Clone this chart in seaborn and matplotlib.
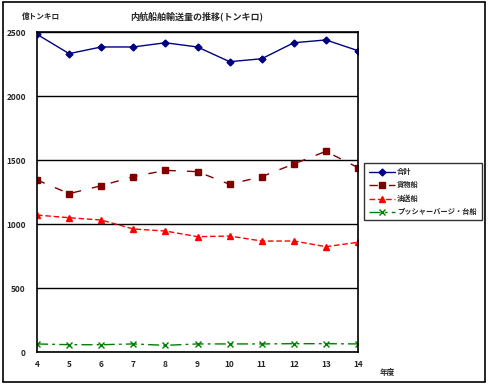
import matplotlib
matplotlib.use("Agg")
import matplotlib.pyplot as plt
import pandas as pd
import seaborn as sns
from matplotlib.patches import Rectangle

# 年度 (fiscal year, Heisei)
years = [4, 5, 6, 7, 8, 9, 10, 11, 12, 13, 14]

# 億トンキロ
total = [2482, 2331, 2383, 2383, 2416, 2383, 2268, 2291, 2416, 2438, 2354]
cargo = [1344, 1237, 1299, 1370, 1419, 1409, 1310, 1370, 1469, 1568, 1440]
oil = [1070, 1049, 1031, 961, 945, 901, 906, 867, 867, 823, 857]
pusher = [63, 57, 57, 63, 52, 63, 63, 63, 65, 65, 63]

series_names = ["合計", "貨物船", "油送船", "プッシャーバージ・台船"]
colors = ["#000080", "#800000", "#FF0000", "#008000"]
markers = ["D", "s", "^", "x"]
styles = ["-", (0, (6, 8)), (0, (4, 2)), (0, (8, 3, 2, 3))]

df = pd.DataFrame({"年度": years, series_names[0]: total, series_names[1]: cargo,
                   series_names[2]: oil, series_names[3]: pusher})
long = df.melt(id_vars="年度", var_name="系列", value_name="値")

sns.set_style("white")
plt.rcParams["font.family"] = ["Noto Sans CJK JP", "DejaVu Sans"]

fig = plt.figure(figsize=(4.9, 3.87), dpi=100)
ax = fig.add_axes([37 / 490, 1 - 352 / 387, 321 / 490, 320 / 387])

for name, c, m, ls in zip(series_names, colors, markers, styles):
    sub = long[long["系列"] == name]
    sns.lineplot(data=sub, x="年度", y="値", ax=ax, color=c, marker=m,
                 linestyle=ls, linewidth=1.0, markersize=4.5 if m != "D" else 3.5,
                 markeredgecolor=c, markeredgewidth=1.0, label=name)

ax.set_xlim(4, 14)
ax.set_ylim(0, 2500)
ax.set_xticks(years)
ax.set_yticks([0, 500, 1000, 1500, 2000, 2500])
ax.tick_params(axis="both", length=0, labelsize=6, pad=8)
ax.tick_params(axis="x", pad=6)
for lab in ax.get_xticklabels() + ax.get_yticklabels():
    lab.set_fontweight("bold")
ax.yaxis.grid(True, color="black", linewidth=1.0)
ax.set_axisbelow(True)
for sp in ax.spines.values():
    sp.set_color("black")
    sp.set_linewidth(1.2)
    sp.set_visible(True)
ax.set_xlabel("")
ax.set_ylabel("")

leg = ax.legend(loc="upper left", bbox_to_anchor=(364 / 490, 1 - 163 / 387),
                bbox_transform=fig.transFigure, frameon=True, fancybox=False,
                fontsize=5.2, handlelength=3.6, borderpad=0.7, labelspacing=0.85,
                handletextpad=0.3, borderaxespad=0)
leg.get_frame().set_edgecolor("black")
leg.get_frame().set_linewidth(1.0)
for t in leg.get_texts():
    t.set_fontweight("bold")

fig.text(197 / 490, 1 - 16 / 387, "内航船舶輸送量の推移(トンキロ)", ha="center",
         va="center", fontsize=6.5, fontweight="bold")
fig.text(22 / 490, 1 - 16 / 387, "億トンキロ", ha="left", va="center",
         fontsize=5.5, fontweight="bold")
fig.text(387 / 490, 1 - 372 / 387, "年度", ha="center", va="center",
         fontsize=5.5, fontweight="bold")

fig.patches.append(Rectangle((3 / 490, 1 - 382 / 387), 482 / 490, 380 / 387,
                             transform=fig.transFigure, fill=False,
                             edgecolor="black", linewidth=1.2))

fig.savefig("out.png", dpi=100)
